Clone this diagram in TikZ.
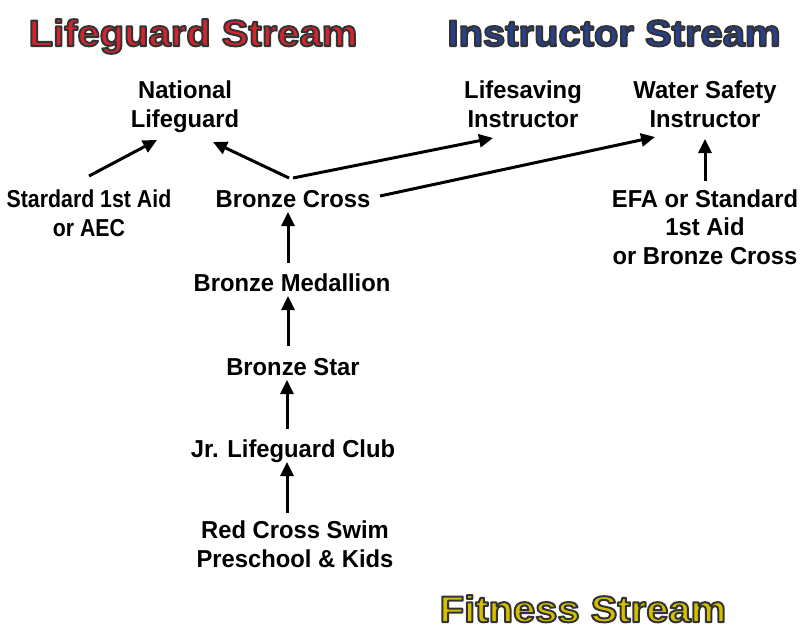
\documentclass[tikz,border=0pt]{standalone}
\usepackage{fontspec}
\usetikzlibrary{arrows.meta}
\newfontfamily\bodyfont{Liberation Sans}[FakeStretch=0.97]
\newfontfamily\narrowfont{Liberation Sans}[FakeStretch=0.87]
\newfontfamily\titlefont{Liberation Sans}[FakeStretch=1.08]
\definecolor{lgred}{RGB}{212,36,46}
\definecolor{insblue}{RGB}{38,64,146}
\definecolor{fityel}{RGB}{212,192,0}
\newcommand\outlinetext[2]{{\color{#1}\special{pdf:literal direct 2 Tr 2 w 0.2 0.2 0.2 RG 1 j}#2\special{pdf:literal direct 0 Tr}}}
\begin{document}
\begin{tikzpicture}[x=1pt,y=-1pt,
  lbl/.style={font=\bodyfont\bfseries\fontsize{24.5}{28.5}\selectfont, align=center, inner sep=0pt, anchor=base},
  ttl/.style={font=\titlefont\bfseries\fontsize{37}{40}\selectfont, inner sep=0pt, anchor=base},
  arr/.style={-{Triangle[length=14pt,width=13pt]}, line width=3pt, shorten >=0pt}]
\useasboundingbox (0,0) rectangle (801,634);
% titles
\node[ttl] (tlg) at (193,46) {\outlinetext{lgred}{Lifeguard Stream}};
\node[ttl] (tins) at (614,46) {\outlinetext{insblue}{Instructor Stream}};
\node[ttl] (tfit) at (583,622) {\outlinetext{fityel}{Fitness Stream}};
% labels (anchor = baseline of last line)
\node[lbl] (nl) at (185,127) {National\\Lifeguard};
\node[lbl, font=\narrowfont\bfseries\fontsize{24.5}{28.5}\selectfont] (sfa) at (89,236) {Stardard 1st Aid\\or AEC};
\node[lbl] (bc) at (293,207) {Bronze Cross};
\node[lbl] (lsi) at (523,127) {Lifesaving\\Instructor};
\node[lbl] (wsi) at (705,127) {Water Safety\\Instructor};
\node[lbl] (efa) at (705,264) {EFA or Standard\\1st Aid\\or Bronze Cross};
\node[lbl] (bm) at (292,291) {Bronze Medallion};
\node[lbl] (bs) at (293,375) {Bronze Star};
\node[lbl] (jr) at (293,457) {Jr. Lifeguard Club};
\node[lbl] (rcs) at (295,567) {Red Cross Swim\\Preschool \& Kids};
% connector end points
\coordinate (sfaT) at (89,176);
\coordinate (nlL) at (157,140);
\coordinate (bcT1) at (289,178);
\coordinate (nlR) at (213,142);
\coordinate (bcT2) at (293,178);
\coordinate (lsiB) at (493,138);
\coordinate (bcR) at (380,196);
\coordinate (wsiB) at (655,137);
\coordinate (efaT) at (705,181);
\coordinate (wsiB2) at (705,139);
\coordinate (bmT) at (288,263);
\coordinate (bcB) at (288,212);
\coordinate (bsT) at (288,346);
\coordinate (bmB) at (288,296);
\coordinate (jrT) at (287,429);
\coordinate (bsB) at (287,380);
\coordinate (rcsT) at (287,513);
\coordinate (jrB) at (287,462);
\draw[arr] (sfaT) -- (nlL);
\draw[arr] (bcT1) -- (nlR);
\draw[arr] (bcT2) -- (lsiB);
\draw[arr] (bcR) -- (wsiB);
\draw[arr] (efaT) -- (wsiB2);
\draw[arr] (bmT) -- (bcB);
\draw[arr] (bsT) -- (bmB);
\draw[arr] (jrT) -- (bsB);
\draw[arr] (rcsT) -- (jrB);
\end{tikzpicture}
\end{document}
